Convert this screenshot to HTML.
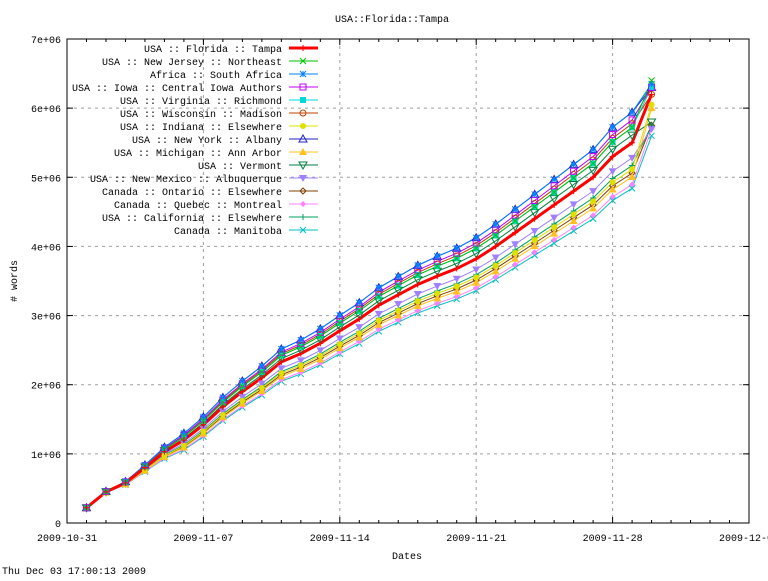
<!DOCTYPE html>
<html><head><meta charset="utf-8"><style>
html,body{margin:0;padding:0;background:#fff;}
svg text{font-family:"Liberation Mono","DejaVu Sans Mono",monospace;font-size:10px;fill:#000;}
</style></head><body>
<svg id="c" width="768" height="576" viewBox="0 0 768 576" xmlns="http://www.w3.org/2000/svg"></svg>
<script>
const S=document.getElementById('c');let h='';
const L=67,R=749,T=39,B=523;
const X=d=>67+d*(682/35), Y=v=>B-v*(484/7);
for(let i=1;i<7;i++){h+=`<line x1="${L}" x2="${R}" y1="${Y(i)}" y2="${Y(i)}" stroke="#a0a0a0" stroke-dasharray="3,4"/>`;}
for(let i=1;i<5;i++){const x=X(i*7);h+=`<line x1="${x}" x2="${x}" y1="${T}" y2="${B}" stroke="#a0a0a0" stroke-dasharray="3,4"/>`;}
h+=`<rect x="${L}" y="${T}" width="${R-L}" height="${B-T}" fill="none" stroke="#000"/>`;
for(let i=0;i<=7;i++){const y=Y(i);h+=`<line x1="${L}" x2="${L+6}" y1="${y}" y2="${y}" stroke="#000"/><line x1="${R-6}" x2="${R}" y1="${y}" y2="${y}" stroke="#000"/>`;
h+=`<text x="61" y="${y+4}" text-anchor="end">${i?i+'e+06':'0'}</text>`;}
const dl=['2009-10-31','2009-11-07','2009-11-14','2009-11-21','2009-11-28','2009-12-05'];
for(let d=0;d<=35;d++){const x=X(d),m=d%7==0;const l=m?6:3;
h+=`<line x1="${x}" x2="${x}" y1="${B-l}" y2="${B}" stroke="#000"/><line x1="${x}" x2="${x}" y1="${T}" y2="${T+l}" stroke="#000"/>`;
if(m)h+=`<text x="${x}" y="541" text-anchor="middle">${dl[d/7]}</text>`;}
h+=`<text x="392" y="22" text-anchor="middle">USA::Florida::Tampa</text>`;
h+=`<text x="407" y="559" text-anchor="middle">Dates</text>`;
h+=`<text transform="translate(17,281) rotate(-90)" text-anchor="middle"># words</text>`;
h+=`<text x="2" y="574">Thu Dec 03 17:00:13 2009</text>`;
const base=[0.22,0.45,0.58,0.8,1.03,1.2,1.42,1.68,1.9,2.1,2.33,2.45,2.6,2.78,2.95,3.15,3.3,3.45,3.57,3.68,3.82,4.0,4.2,4.4,4.6,4.8,5.0,5.3,5.5,6.2];
const ser=[
['USA :: Florida :: Tampa','#ff0000','plus',0,6.2],
['USA :: New Jersey :: Northeast','#00c000','x',0.04,6.4],
['Africa :: South Africa','#0080ff','star',0.08,6.35],
['USA :: Iowa :: Central Iowa Authors','#c000ff','osq',0.06,6.3],
['USA :: Virginia :: Richmond','#00d8d8','fsq',0.04,6.3],
['USA :: Wisconsin :: Madison','#c04000','oci',0.05,6.2],
['USA :: Indiana :: Elsewhere','#e0e000','fci',-0.07,6.05],
['USA :: New York :: Albany','#2020c0','otr',0.08,6.3],
['USA :: Michigan :: Ann Arbor','#ffc020','ftr',-0.09,6.0],
['USA :: Vermont','#008040','oit',0.02,5.8],
['USA :: New Mexico :: Albuquerque','#a080ff','fit',-0.04,5.7],
['Canada :: Ontario :: Elsewhere','#804000','odi',-0.08,5.75],
['Canada :: Quebec :: Montreal','#ff80ff','fdi',-0.11,5.7],
['USA :: California :: Elsewhere','#00a060','plus',-0.06,5.75],
['Canada :: Manitoba','#00c0c0','x',-0.12,5.6]];
function mk(t,x,y,c){const s=3;switch(t){
case'plus':return `<path d="M${x-s} ${y}h${2*s}M${x} ${y-s}v${2*s}" stroke="${c}"/>`;
case'x':return `<path d="M${x-s} ${y-s}l${2*s} ${2*s}M${x-s} ${y+s}l${2*s} ${-2*s}" stroke="${c}"/>`;
case'star':return `<path d="M${x-s} ${y}h${2*s}M${x} ${y-s}v${2*s}M${x-s} ${y-s}l${2*s} ${2*s}M${x-s} ${y+s}l${2*s} ${-2*s}" stroke="${c}"/>`;
case'osq':return `<rect x="${x-s}" y="${y-s}" width="${2*s}" height="${2*s}" fill="none" stroke="${c}"/>`;
case'fsq':return `<rect x="${x-s}" y="${y-s}" width="${2*s}" height="${2*s}" fill="${c}"/>`;
case'oci':return `<circle cx="${x}" cy="${y}" r="${s}" fill="none" stroke="${c}"/>`;
case'fci':return `<circle cx="${x}" cy="${y}" r="${s}" fill="${c}"/>`;
case'otr':return `<path d="M${x} ${y-s-1}L${x+s+1} ${y+s}H${x-s-1}Z" fill="none" stroke="${c}"/>`;
case'ftr':return `<path d="M${x} ${y-s-1}L${x+s+1} ${y+s}H${x-s-1}Z" fill="${c}"/>`;
case'oit':return `<path d="M${x} ${y+s+1}L${x+s+1} ${y-s}H${x-s-1}Z" fill="none" stroke="${c}"/>`;
case'fit':return `<path d="M${x} ${y+s+1}L${x+s+1} ${y-s}H${x-s-1}Z" fill="${c}"/>`;
case'odi':return `<path d="M${x} ${y-s}L${x+s} ${y}L${x} ${y+s}L${x-s} ${y}Z" fill="none" stroke="${c}"/>`;
case'fdi':return `<path d="M${x} ${y-s}L${x+s} ${y}L${x} ${y+s}L${x-s} ${y}Z" fill="${c}"/>`;}}
let lines='',marks='';
ser.slice().reverse().forEach(([n,c,m,a,e],ri)=>{
 const i=ser.length-1-ri;const pts=[];
 base.forEach((v,k)=>{let val=k==29?e:v*(1+a*Math.min(1,k/5));pts.push([X(k+1),Y(val)]);});
 lines+=`<polyline points="${pts.map(p=>p.join(',')).join(' ')}" fill="none" stroke="${c}" stroke-width="${i?1:3}"/>`;
 pts.forEach(p=>marks+=mk(m,p[0],p[1],c));
});
h+=lines+marks;
ser.forEach(([n,c,m],i)=>{const y=48+13*i;
h+=`<text x="282" y="${y+4}" text-anchor="end">${n}</text><line x1="289" x2="318" y1="${y}" y2="${y}" stroke="${c}" stroke-width="${i?1:3}"/>`+mk(m,303,y,c);});
S.innerHTML=h;
</script>
</body></html>
